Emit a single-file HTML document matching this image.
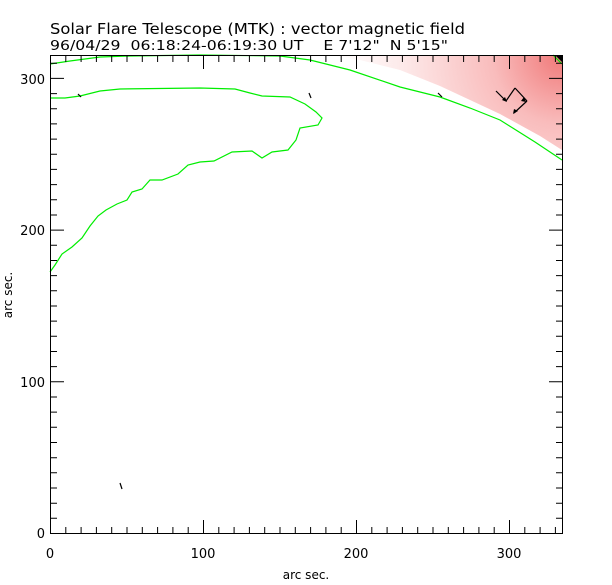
<!DOCTYPE html>
<html><head><style>body{margin:0;background:#fff}svg{display:block}text{font-family:"DejaVu Sans","Liberation Sans",sans-serif}</style></head>
<body>
<svg width="612" height="585" viewBox="0 0 612 585" xmlns="http://www.w3.org/2000/svg">
<defs>
<radialGradient id="rg" cx="562" cy="55" r="230" gradientUnits="userSpaceOnUse">
<stop offset="0" stop-color="#f07878"/>
<stop offset="0.3" stop-color="#f9bcbc"/>
<stop offset="0.7" stop-color="#fdeaea"/>
<stop offset="1" stop-color="#fff"/>
</radialGradient>
</defs>
<rect width="612" height="585" fill="#fff"/>
<polygon points="330,55 562,55 562,150 540,136 500,114 470,100 440,86 400,70 360,60" fill="url(#rg)"/>
<g fill="none" stroke="#00ee00" stroke-width="1.2">
<polyline points="50,64 70,61 100,57 130,56 200,55 280,56 310,60 350,70 400,87 440,97 470,108 500,120 535,142 562,160"/>
<polyline points="50,98 65,98 80,96 100,91 120,89 200,88 235,89 250,93 262,96 290,97 305,104 316,112 322,118 318,125 300,128 296,140 288,150 272,152 262,158 252,151 232,152 214,161 200,162 188,165 178,174 162,180 150,180 142,189 132,192 127,200 117,204 106,210 98,216 90,226 82,238 72,247 62,254 55,265 50,272"/>
<polyline points="553,55 562,64"/>
</g>
<polygon points="555,55 562,55 562,62" fill="#000"/>
<g stroke="#000" stroke-width="1.2" fill="none">
<line x1="78" y1="94" x2="81" y2="97"/>
<line x1="309" y1="93" x2="311" y2="98"/>
<line x1="438" y1="93" x2="442" y2="97"/>
<line x1="120" y1="483" x2="122" y2="489"/>
<line x1="496" y1="91" x2="506" y2="101"/>
<line x1="506" y1="101" x2="515" y2="88"/>
<line x1="515" y1="88" x2="527" y2="101"/>
<line x1="527" y1="101" x2="514" y2="113"/>
</g>
<g fill="#000">
<polygon points="507,102 502,100 505,97"/>
<polygon points="526,102 521,101 524,97"/>
<polygon points="513,114 514,109 518,111"/>
</g>
<rect x="50.5" y="55.5" width="512" height="478" fill="none" stroke="#000" stroke-width="1"/>
<path stroke="#000" stroke-width="1" fill="none" d="
M50.5 534v-14M65.8 534v-7M81.1 534v-7M96.4 534v-7M111.7 534v-7M127 534v-7M142.3 534v-7M157.6 534v-7M172.9 534v-7M188.2 534v-7M203.5 534v-14M218.8 534v-7M234.1 534v-7M249.4 534v-7M264.7 534v-7M280 534v-7M295.3 534v-7M310.6 534v-7M325.9 534v-7M341.2 534v-7M356.5 534v-14M371.8 534v-7M387.1 534v-7M402.4 534v-7M417.7 534v-7M433 534v-7M448.3 534v-7M463.6 534v-7M478.9 534v-7M494.2 534v-7M509.5 534v-14M524.8 534v-7M540.1 534v-7M555.4 534v-7
M50.5 55v14M65.8 55v7M81.1 55v7M96.4 55v7M111.7 55v7M127 55v7M142.3 55v7M157.6 55v7M172.9 55v7M188.2 55v7M203.5 55v14M218.8 55v7M234.1 55v7M249.4 55v7M264.7 55v7M280 55v7M295.3 55v7M310.6 55v7M325.9 55v7M341.2 55v7M356.5 55v14M371.8 55v7M387.1 55v7M402.4 55v7M417.7 55v7M433 55v7M448.3 55v7M463.6 55v7M478.9 55v7M494.2 55v7M509.5 55v14M524.8 55v7M540.1 55v7M555.4 55v7
M50 533.5h14M50 518.3h7M50 503.2h7M50 488h7M50 472.8h7M50 457.7h7M50 442.5h7M50 427.3h7M50 412.1h7M50 397h7M50 381.8h14M50 366.6h7M50 351.5h7M50 336.3h7M50 321.1h7M50 306h7M50 290.8h7M50 275.6h7M50 260.5h7M50 245.3h7M50 230.1h14M50 215h7M50 199.8h7M50 184.6h7M50 169.4h7M50 154.3h7M50 139.1h7M50 123.9h7M50 108.8h7M50 93.6h7M50 78.4h14M50 63.3h7
M563 533.5h-14M563 518.3h-7M563 503.2h-7M563 488h-7M563 472.8h-7M563 457.7h-7M563 442.5h-7M563 427.3h-7M563 412.1h-7M563 397h-7M563 381.8h-14M563 366.6h-7M563 351.5h-7M563 336.3h-7M563 321.1h-7M563 306h-7M563 290.8h-7M563 275.6h-7M563 260.5h-7M563 245.3h-7M563 230.1h-14M563 215h-7M563 199.8h-7M563 184.6h-7M563 169.4h-7M563 154.3h-7M563 139.1h-7M563 123.9h-7M563 108.8h-7M563 93.6h-7M563 78.4h-14M563 63.3h-7"/>
<g font-size="13" fill="#000">
<text x="50" y="558" text-anchor="middle">0</text>
<text x="203" y="558" text-anchor="middle">100</text>
<text x="356" y="558" text-anchor="middle">200</text>
<text x="509" y="558" text-anchor="middle">300</text>
<text x="45" y="538" text-anchor="end">0</text>
<text x="45" y="387" text-anchor="end">100</text>
<text x="45" y="235" text-anchor="end">200</text>
<text x="45" y="84" text-anchor="end">300</text>
<text x="306" y="579" text-anchor="middle" font-size="12">arc sec.</text>
<text transform="translate(12,295) rotate(-90)" text-anchor="middle" font-size="12">arc sec.</text>
<text x="50" y="34" font-size="15" textLength="415" lengthAdjust="spacingAndGlyphs">Solar Flare Telescope (MTK) : vector magnetic field</text>
<text x="50" y="50" font-size="13" xml:space="preserve" textLength="398" lengthAdjust="spacingAndGlyphs">96/04/29  06:18:24-06:19:30 UT    E 7'12"  N 5'15"</text>
</g>
</svg>
</body></html>
